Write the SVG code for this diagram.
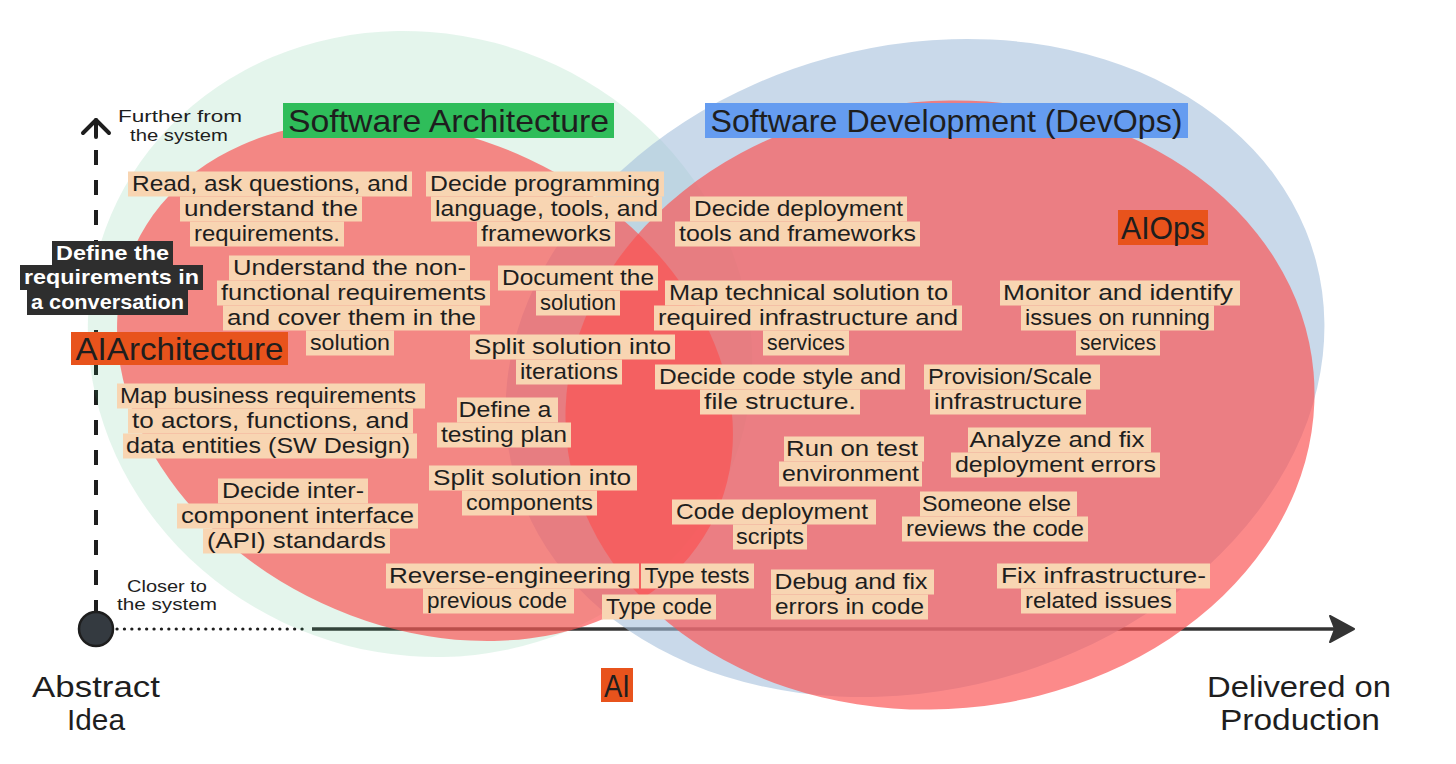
<svg xmlns="http://www.w3.org/2000/svg" width="1456" height="764" viewBox="0 0 1456 764">
<style>
.hl{fill:#f8d5b2}
.t{font-family:"Liberation Sans",Arial,sans-serif;font-size:22px;fill:#1e1e1e;text-anchor:middle}
.dk{fill:#2e2e2e}
.tw{font-family:"Liberation Sans",Arial,sans-serif;font-size:21px;font-weight:bold;fill:#ffffff;text-anchor:middle}
.big{font-family:"Liberation Sans",Arial,sans-serif;font-size:32px;fill:#1e1e1e;text-anchor:middle}
.ax{font-family:"Liberation Sans",Arial,sans-serif;font-size:29px;fill:#1e1e1e;text-anchor:middle}
.sm{font-family:"Liberation Sans",Arial,sans-serif;font-size:16.5px;fill:#1e1e1e;text-anchor:middle}
.ai{fill:#e8531c}
.red{fill:#fa5252;fill-opacity:0.68}
</style>
<rect width="1456" height="764" fill="#ffffff"/>

<g id="connectors">
  <line x1="96" y1="120" x2="96" y2="137" stroke="#1e1e1e" stroke-width="4" stroke-linecap="round"/>
  <polyline points="83,133 96,120 109,133" fill="none" stroke="#1e1e1e" stroke-width="4" stroke-linecap="round" stroke-linejoin="round"/>
  <line x1="96" y1="150" x2="96" y2="614" stroke="#1e1e1e" stroke-width="4" stroke-dasharray="15 15"/>
  <line x1="117" y1="629" x2="308" y2="629" stroke="#1e1e1e" stroke-width="3.2" stroke-linecap="round" stroke-dasharray="0.1 7.3"/>
  <line x1="312" y1="629" x2="1342" y2="629" stroke="#343434" stroke-width="3.5"/>
  <polygon points="1330,616 1354,629 1330,642 1335,629" fill="#343434" stroke="#343434" stroke-width="2" stroke-linejoin="round"/>
  <circle cx="96" cy="629" r="17" fill="#343a40" stroke="#1e1e1e" stroke-width="2.5"/>
</g>

<g id="regions">
  <ellipse id="area-architecture" cx="420" cy="344" rx="335" ry="310" transform="rotate(20 420 344)" fill="#2fb36a" fill-opacity="0.13"/>
  <ellipse id="area-devops" cx="915" cy="368" rx="415" ry="322" transform="rotate(-15 915 368)" fill="#a5c0dc" fill-opacity="0.6"/>
  <ellipse id="area-ai-architecture" class="red" cx="425" cy="381" rx="320" ry="245" transform="rotate(25 425 381)"/>
  <ellipse id="area-ai-ops" class="red" cx="940" cy="405" rx="375" ry="304" transform="rotate(-5 940 405)"/>
</g>

<g id="axis-labels">
  <text class="sm"><tspan x="180" y="122" textLength="124" lengthAdjust="spacingAndGlyphs">Further from</tspan><tspan x="179" y="141" textLength="98" lengthAdjust="spacingAndGlyphs">the system</tspan></text>
  <text class="sm"><tspan x="167" y="592" textLength="80" lengthAdjust="spacingAndGlyphs">Closer to</tspan><tspan x="167" y="610" textLength="100" lengthAdjust="spacingAndGlyphs">the system</tspan></text>
  <text class="ax"><tspan x="96" y="697" textLength="128" lengthAdjust="spacingAndGlyphs">Abstract</tspan><tspan x="96" y="730" textLength="58" lengthAdjust="spacingAndGlyphs">Idea</tspan></text>
  <text class="ax"><tspan x="1299" y="697" textLength="184" lengthAdjust="spacingAndGlyphs">Delivered on</tspan><tspan x="1300" y="730" textLength="160" lengthAdjust="spacingAndGlyphs">Production</tspan></text>
</g>

<g id="label-software-architecture">
  <rect x="283" y="103" width="331" height="35" fill="#2fbd5a"/>
  <text class="big" x="448.5" y="132" textLength="321" lengthAdjust="spacingAndGlyphs">Software Architecture</text>
</g>
<g id="label-software-development">
  <rect x="705" y="103" width="483" height="35" fill="#659cf0"/>
  <text class="big" x="946.5" y="132" textLength="472" lengthAdjust="spacingAndGlyphs">Software Development (DevOps)</text>
</g>
<g id="label-ai-architecture">
  <rect class="ai" x="71" y="332" width="217" height="33"/>
  <text class="big" x="179.5" y="360" textLength="208" lengthAdjust="spacingAndGlyphs">AIArchitecture</text>
</g>
<g id="label-ai-ops">
  <rect class="ai" x="1118" y="210" width="90" height="35"/>
  <text class="big" x="1163" y="239" textLength="84" lengthAdjust="spacingAndGlyphs">AIOps</text>
</g>
<g id="label-ai">
  <rect class="ai" x="601" y="668" width="32" height="34"/>
  <text class="big" x="617" y="697" textLength="26" lengthAdjust="spacingAndGlyphs">AI</text>
</g>

<g id="define-requirements-conversation">
  <rect class="dk" x="52" y="241" width="121" height="25"/>
  <rect class="dk" x="20" y="265" width="183" height="25"/>
  <rect class="dk" x="27" y="290" width="161" height="25"/>
  <text class="tw"><tspan x="112.5" y="260" textLength="113" lengthAdjust="spacingAndGlyphs">Define the</tspan><tspan x="111.5" y="284" textLength="175" lengthAdjust="spacingAndGlyphs">requirements in</tspan><tspan x="107.5" y="309" textLength="153" lengthAdjust="spacingAndGlyphs">a conversation</tspan></text>
</g>

<g id="read-requirements">
  <rect class="hl" x="128" y="171.5" width="284" height="25"/>
  <rect class="hl" x="180" y="196.5" width="182" height="25"/>
  <rect class="hl" x="190" y="221.5" width="154" height="25"/>
  <text class="t"><tspan x="270" y="191" textLength="276" lengthAdjust="spacingAndGlyphs">Read, ask questions, and</tspan><tspan x="271" y="216" textLength="174" lengthAdjust="spacingAndGlyphs">understand the</tspan><tspan x="267" y="241" textLength="146" lengthAdjust="spacingAndGlyphs">requirements.</tspan></text>
</g>

<g id="decide-programming">
  <rect class="hl" x="426" y="171.5" width="238" height="25"/>
  <rect class="hl" x="431" y="196.5" width="231" height="25"/>
  <rect class="hl" x="477" y="221.5" width="138" height="25"/>
  <text class="t"><tspan x="545" y="191" textLength="230" lengthAdjust="spacingAndGlyphs">Decide programming</tspan><tspan x="546.5" y="216" textLength="223" lengthAdjust="spacingAndGlyphs">language, tools, and</tspan><tspan x="546" y="241" textLength="130" lengthAdjust="spacingAndGlyphs">frameworks</tspan></text>
</g>

<g id="decide-deployment-tools">
  <rect class="hl" x="690" y="196.5" width="217" height="25"/>
  <rect class="hl" x="675" y="221.5" width="245" height="25"/>
  <text class="t"><tspan x="798.5" y="216" textLength="209" lengthAdjust="spacingAndGlyphs">Decide deployment</tspan><tspan x="797.5" y="241" textLength="237" lengthAdjust="spacingAndGlyphs">tools and frameworks</tspan></text>
</g>

<g id="non-functional">
  <rect class="hl" x="229" y="255.5" width="241" height="25"/>
  <rect class="hl" x="217" y="280.5" width="273" height="25"/>
  <rect class="hl" x="223" y="305.5" width="257" height="25"/>
  <rect class="hl" x="306" y="330.5" width="88" height="25"/>
  <text class="t"><tspan x="349.5" y="275" textLength="233" lengthAdjust="spacingAndGlyphs">Understand the non-</tspan><tspan x="353.5" y="300" textLength="265" lengthAdjust="spacingAndGlyphs">functional requirements</tspan><tspan x="351.5" y="325" textLength="249" lengthAdjust="spacingAndGlyphs">and cover them in the</tspan><tspan x="350" y="350" textLength="80" lengthAdjust="spacingAndGlyphs">solution</tspan></text>
</g>

<g id="document-solution">
  <rect class="hl" x="498" y="265.5" width="160" height="25"/>
  <rect class="hl" x="536" y="290.5" width="84" height="25"/>
  <text class="t"><tspan x="578" y="285" textLength="152" lengthAdjust="spacingAndGlyphs">Document the</tspan><tspan x="578" y="310" textLength="76" lengthAdjust="spacingAndGlyphs">solution</tspan></text>
</g>

<g id="map-technical-solution">
  <rect class="hl" x="665" y="280.5" width="287" height="25"/>
  <rect class="hl" x="654" y="305.5" width="308" height="25"/>
  <rect class="hl" x="763" y="330.5" width="86" height="25"/>
  <text class="t"><tspan x="808.5" y="300" textLength="279" lengthAdjust="spacingAndGlyphs">Map technical solution to</tspan><tspan x="808" y="325" textLength="300" lengthAdjust="spacingAndGlyphs">required infrastructure and</tspan><tspan x="806" y="350" textLength="78" lengthAdjust="spacingAndGlyphs">services</tspan></text>
</g>

<g id="monitor-issues">
  <rect class="hl" x="1000" y="280.5" width="240" height="25"/>
  <rect class="hl" x="1021" y="305.5" width="193" height="25"/>
  <rect class="hl" x="1076" y="330.5" width="84" height="25"/>
  <text class="t"><tspan x="1118" y="300" textLength="230" lengthAdjust="spacingAndGlyphs">Monitor and identify</tspan><tspan x="1117.5" y="325" textLength="185" lengthAdjust="spacingAndGlyphs">issues on running</tspan><tspan x="1118" y="350" textLength="76" lengthAdjust="spacingAndGlyphs">services</tspan></text>
</g>

<g id="split-iterations">
  <rect class="hl" x="470" y="334.5" width="205" height="25"/>
  <rect class="hl" x="516" y="359.5" width="106" height="25"/>
  <text class="t"><tspan x="572.5" y="354" textLength="197" lengthAdjust="spacingAndGlyphs">Split solution into</tspan><tspan x="569" y="379" textLength="98" lengthAdjust="spacingAndGlyphs">iterations</tspan></text>
</g>

<g id="code-style">
  <rect class="hl" x="655" y="364.5" width="250" height="25"/>
  <rect class="hl" x="700" y="389.5" width="160" height="25"/>
  <text class="t"><tspan x="780" y="384" textLength="242" lengthAdjust="spacingAndGlyphs">Decide code style and</tspan><tspan x="780" y="409" textLength="152" lengthAdjust="spacingAndGlyphs">file structure.</tspan></text>
</g>

<g id="provision-scale">
  <rect class="hl" x="924" y="364.5" width="176" height="25"/>
  <rect class="hl" x="930" y="389.5" width="156" height="25"/>
  <text class="t"><tspan x="1010" y="384" textLength="164" lengthAdjust="spacingAndGlyphs">Provision/Scale</tspan><tspan x="1008" y="409" textLength="148" lengthAdjust="spacingAndGlyphs">infrastructure</tspan></text>
</g>

<g id="map-business">
  <rect class="hl" x="117" y="383.5" width="308" height="25"/>
  <rect class="hl" x="128" y="408.5" width="285" height="25"/>
  <rect class="hl" x="123" y="433.5" width="294" height="25"/>
  <text class="t"><tspan x="268" y="403" textLength="296" lengthAdjust="spacingAndGlyphs">Map business requirements</tspan><tspan x="270.5" y="428" textLength="277" lengthAdjust="spacingAndGlyphs">to actors, functions, and</tspan><tspan x="268" y="453" textLength="284" lengthAdjust="spacingAndGlyphs">data entities (SW Design)</tspan></text>
</g>

<g id="testing-plan">
  <rect class="hl" x="457" y="397.5" width="101" height="25"/>
  <rect class="hl" x="437" y="422.5" width="134" height="25"/>
  <text class="t"><tspan x="505" y="417" textLength="93" lengthAdjust="spacingAndGlyphs">Define a</tspan><tspan x="504" y="442" textLength="126" lengthAdjust="spacingAndGlyphs">testing plan</tspan></text>
</g>

<g id="run-test-env">
  <rect class="hl" x="784" y="436.5" width="140" height="25"/>
  <rect class="hl" x="779" y="461.5" width="143" height="25"/>
  <text class="t"><tspan x="852" y="456" textLength="132" lengthAdjust="spacingAndGlyphs">Run on test</tspan><tspan x="850.5" y="481" textLength="137" lengthAdjust="spacingAndGlyphs">environment</tspan></text>
</g>

<g id="analyze-deployment-errors">
  <rect class="hl" x="968" y="427.5" width="183" height="25"/>
  <rect class="hl" x="951" y="452.5" width="209" height="25"/>
  <text class="t"><tspan x="1057" y="447" textLength="175" lengthAdjust="spacingAndGlyphs">Analyze and fix</tspan><tspan x="1055.5" y="472" textLength="201" lengthAdjust="spacingAndGlyphs">deployment errors</tspan></text>
</g>

<g id="split-components">
  <rect class="hl" x="429" y="465.5" width="208" height="25"/>
  <rect class="hl" x="462" y="490.5" width="135" height="25"/>
  <text class="t"><tspan x="532" y="485" textLength="198" lengthAdjust="spacingAndGlyphs">Split solution into</tspan><tspan x="529.5" y="510" textLength="127" lengthAdjust="spacingAndGlyphs">components</tspan></text>
</g>

<g id="interface-standards">
  <rect class="hl" x="218" y="478.5" width="150" height="25"/>
  <rect class="hl" x="177" y="503.5" width="241" height="25"/>
  <rect class="hl" x="203" y="528.5" width="187" height="25"/>
  <text class="t"><tspan x="293" y="498" textLength="142" lengthAdjust="spacingAndGlyphs">Decide inter-</tspan><tspan x="297.5" y="523" textLength="233" lengthAdjust="spacingAndGlyphs">component interface</tspan><tspan x="296.5" y="548" textLength="179" lengthAdjust="spacingAndGlyphs">(API) standards</tspan></text>
</g>

<g id="code-review">
  <rect class="hl" x="920" y="491.5" width="157" height="25"/>
  <rect class="hl" x="902" y="516.5" width="186" height="25"/>
  <text class="t"><tspan x="996.5" y="511" textLength="149" lengthAdjust="spacingAndGlyphs">Someone else</tspan><tspan x="995" y="536" textLength="178" lengthAdjust="spacingAndGlyphs">reviews the code</tspan></text>
</g>

<g id="code-deployment-scripts">
  <rect class="hl" x="672" y="499.5" width="204" height="25"/>
  <rect class="hl" x="733" y="524.5" width="74" height="25"/>
  <text class="t"><tspan x="772" y="519" textLength="192" lengthAdjust="spacingAndGlyphs">Code deployment</tspan><tspan x="770" y="544" textLength="68" lengthAdjust="spacingAndGlyphs">scripts</tspan></text>
</g>

<g id="reverse-engineering">
  <rect class="hl" x="386" y="563.5" width="253" height="25"/>
  <rect class="hl" x="423" y="588.5" width="151" height="25"/>
  <text class="t"><tspan x="510" y="583" textLength="242" lengthAdjust="spacingAndGlyphs">Reverse-engineering</tspan><tspan x="497" y="608" textLength="140" lengthAdjust="spacingAndGlyphs">previous code</tspan></text>
</g>

<g id="type-tests">
  <rect class="hl" x="641" y="563.5" width="113" height="25"/>
  <text class="t" x="697" y="583" textLength="105" lengthAdjust="spacingAndGlyphs">Type tests</text>
</g>

<g id="type-code">
  <rect class="hl" x="602" y="594.5" width="114" height="25"/>
  <text class="t" x="659" y="614" textLength="106" lengthAdjust="spacingAndGlyphs">Type code</text>
</g>

<g id="debug-fix">
  <rect class="hl" x="771" y="569.5" width="163" height="25"/>
  <rect class="hl" x="771" y="594.5" width="157" height="25"/>
  <text class="t"><tspan x="851" y="589" textLength="153" lengthAdjust="spacingAndGlyphs">Debug and fix</tspan><tspan x="849.5" y="614" textLength="149" lengthAdjust="spacingAndGlyphs">errors in code</tspan></text>
</g>

<g id="fix-infrastructure">
  <rect class="hl" x="997" y="563.5" width="213" height="25"/>
  <rect class="hl" x="1021" y="588.5" width="155" height="25"/>
  <text class="t"><tspan x="1103.5" y="583" textLength="205" lengthAdjust="spacingAndGlyphs">Fix infrastructure-</tspan><tspan x="1098.5" y="608" textLength="147" lengthAdjust="spacingAndGlyphs">related issues</tspan></text>
</g>
</svg>
